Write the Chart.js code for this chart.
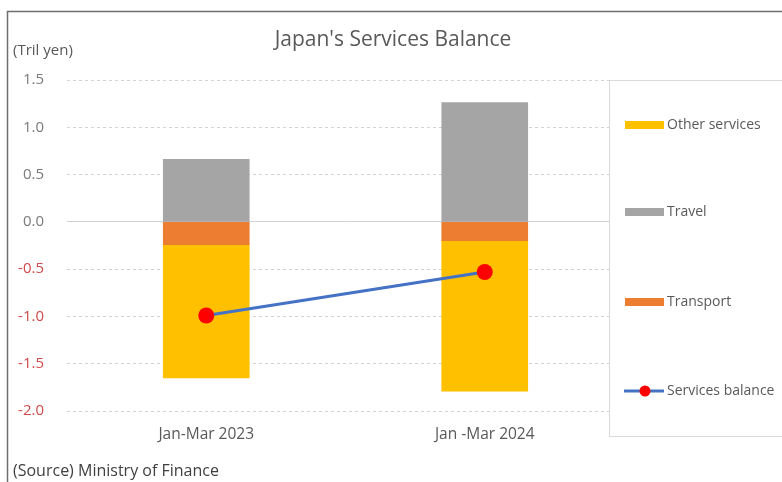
<!DOCTYPE html>
<html lang="en">
<head>
<meta charset="UTF-8">
<title>Japan's Services Balance</title>
<script src="https://cdn.jsdelivr.net/npm/chart.js@4.4.1/dist/chart.umd.min.js"></script>
<style>
  html, body { margin: 0; padding: 0; background: #fff; }
  #wrap { width: 782px; height: 482px; position: relative; }
</style>
</head>
<body>
<div id="wrap"><canvas id="myChart" width="782" height="482"></canvas></div>
<script>
const quarters = ['Jan-Mar 2023', 'Jan -Mar 2024']
const otherServices = [-1.41, -1.59]
const travel = [0.66, 1.26]
const transport = [-0.24, -0.20]
const servicesBalance = [-0.99, -0.53]
const yTicks = [1.5, 1.0, 0.5, 0.0, -0.5, -1.0, -1.5, -2.0]

const FONT = "'Open Sans', 'Noto Sans', sans-serif"

// frame, title, unit label, source note and the boxed legend on the right
const decorations = {
  id: 'decorations',
  beforeDraw(chart) {
    const c = chart.ctx
    c.save()
    c.fillStyle = '#fff'
    c.fillRect(0, 0, chart.width, chart.height)
    c.strokeStyle = '#6e6e6e'
    c.lineWidth = 1.5
    c.beginPath()
    c.moveTo(7.5, chart.height)
    c.lineTo(7.5, 11.5)
    c.lineTo(chart.width, 11.5)
    c.stroke()
    c.restore()
  },
  afterDraw(chart) {
    const c = chart.ctx
    c.save()
    c.fillStyle = '#595959'
    c.font = '21px ' + FONT
    c.textAlign = 'center'
    c.textBaseline = 'middle'
    c.fillText("Japan's Services Balance", 393, 40)

    c.textAlign = 'left'
    c.font = '15px ' + FONT
    c.fillText('(Tril yen)', 13, 51)
    c.font = '16px ' + FONT
    c.fillStyle = '#404040'
    c.fillText('(Source) Ministry of Finance', 13, 471)

    // legend panel
    c.fillStyle = '#fff'
    c.fillRect(609, 80, 180, 357)
    c.strokeStyle = '#d9d9d9'
    c.lineWidth = 1
    c.strokeRect(609.5, 80.5, 200, 356)

    const ds = chart.data.datasets
    const find = l => ds.find(d => d.label === l)
    const items = [
      [find('Other services'), 125],
      [find('Travel'), 212],
      [find('Transport'), 302],
      [find('Services balance'), 391]
    ]
    c.font = '14px ' + FONT
    c.textBaseline = 'middle'
    items.forEach(([d, y]) => {
      if (d.type === 'line') {
        c.strokeStyle = d.borderColor
        c.lineWidth = 3
        c.beginPath()
        c.moveTo(624, y)
        c.lineTo(664, y)
        c.stroke()
        c.fillStyle = d.pointBackgroundColor
        c.beginPath()
        c.arc(645, y, 5.5, 0, Math.PI * 2)
        c.fill()
      } else {
        c.fillStyle = d.backgroundColor
        c.fillRect(625, y - 4, 39, 8)
      }
      c.fillStyle = '#595959'
      c.fillText(d.label, 667, y)
    })
    c.restore()
  }
}

const ctx = document.getElementById('myChart').getContext('2d')
new Chart(ctx, {
  data: {
    labels: quarters,
    datasets: [
      {
        type: 'line',
        label: 'Services balance',
        data: servicesBalance,
        stack: 'balance',
        borderColor: '#4472C4',
        borderWidth: 3,
        pointRadius: 8,
        pointHoverRadius: 8,
        pointBackgroundColor: '#FF0000',
        pointBorderWidth: 0,
        order: 0
      },
      {
        type: 'bar',
        label: 'Transport',
        data: transport,
        stack: 'items',
        backgroundColor: '#ED7D31',
        barThickness: 86,
        order: 1
      },
      {
        type: 'bar',
        label: 'Other services',
        data: otherServices,
        stack: 'items',
        backgroundColor: '#FFC000',
        barThickness: 86,
        order: 1
      },
      {
        type: 'bar',
        label: 'Travel',
        data: travel,
        stack: 'items',
        backgroundColor: '#A5A5A5',
        barThickness: 86,
        order: 1
      }
    ]
  },
  options: {
    responsive: false,
    animation: false,
    events: [],
    layout: { padding: { left: 8, right: 158, top: 80, bottom: 30 } },
    plugins: {
      legend: { display: false },
      tooltip: { enabled: false }
    },
    scales: {
      x: {
        stacked: true,
        offset: true,
        grid: { display: false, drawTicks: false },
        border: { display: false },
        ticks: { color: '#595959', font: { family: FONT, size: 15.5 }, padding: 14 },
        afterFit(s) { s.height = 41 }
      },
      y: {
        stacked: true,
        min: -2,
        max: 1.5,
        afterBuildTicks(s) { s.ticks = yTicks.map(v => ({ value: v })) },
        afterFit(s) { s.width = 59 },
        border: {
          display: false,
          // zero line solid, the rest dashed
          dash: c => (c.tick && c.tick.value === 0 ? [] : [3, 3])
        },
        grid: {
          drawTicks: false,
          color: '#d2d2d2',
          lineWidth: 1
        },
        ticks: {
          padding: 23,
          font: { family: FONT, size: 15 },
          color: c => (c.tick.value < 0 ? '#cf4a4a' : '#7a7a7a'),
          callback: v => v.toFixed(1)
        }
      }
    }
  },
  plugins: [decorations]
})
</script>
</body>
</html>
